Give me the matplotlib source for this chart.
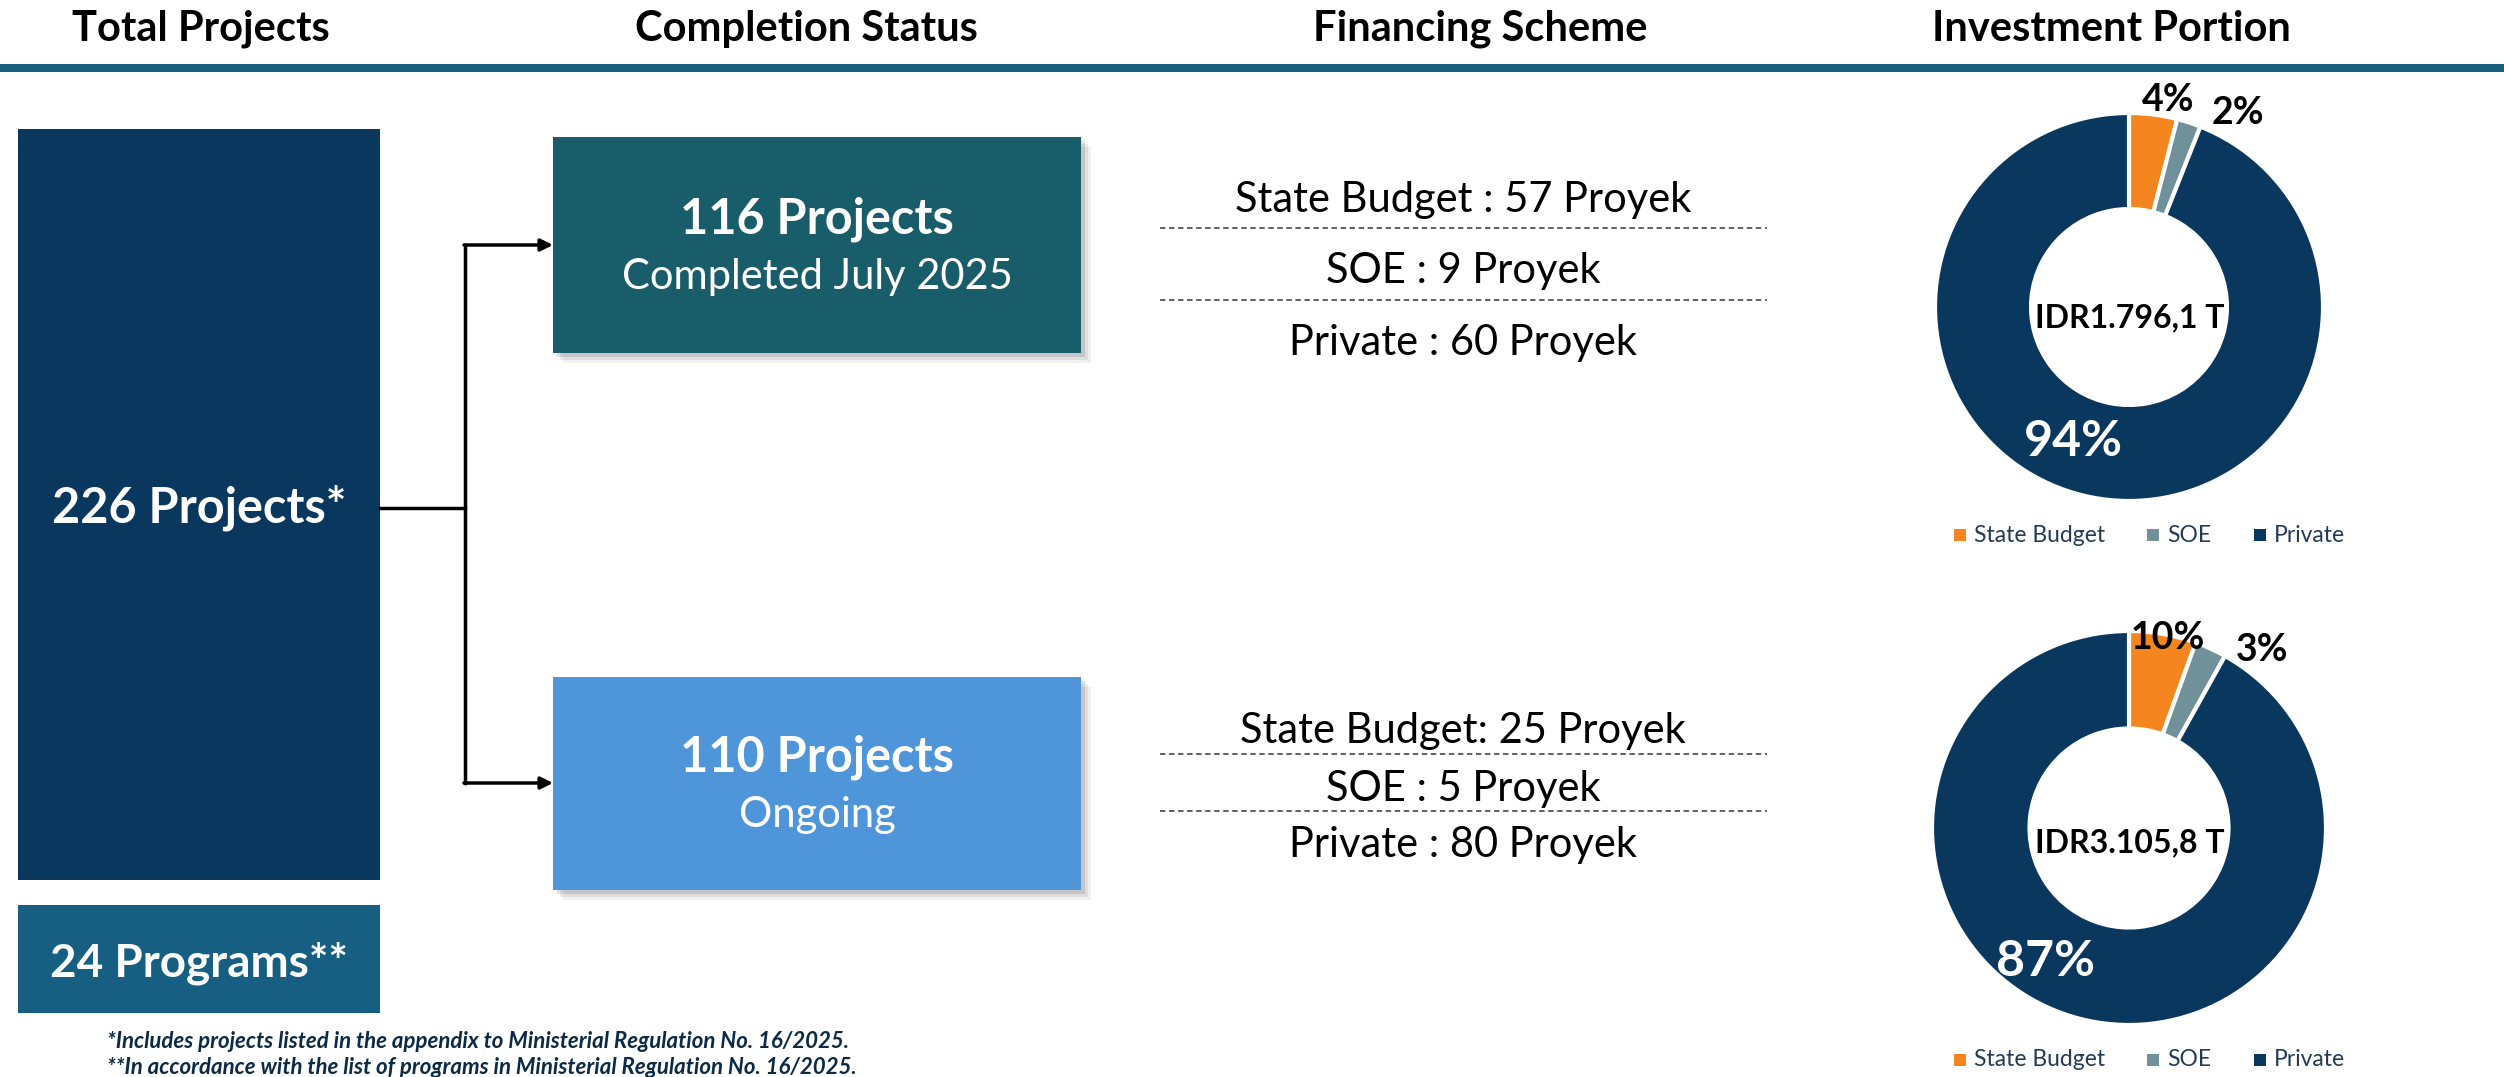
import matplotlib.pyplot as plt
from matplotlib.patches import Rectangle

plt.rcParams['font.family'] = ['Lato', 'DejaVu Sans']

W, H = 2504, 1077

headers = ['Total Projects', 'Completion Status', 'Financing Scheme', 'Investment Portion']
total_label = '226 Projects*'
programs_label = '24 Programs**'
status_counts = ['116 Projects', '110 Projects']
status_names = ['Completed July 2025', 'Ongoing']
financing_done = ['State Budget : 57 Proyek', 'SOE : 9 Proyek', 'Private : 60 Proyek']
financing_ongoing = ['State Budget: 25 Proyek', 'SOE : 5 Proyek', 'Private : 80 Proyek']
sources = ['State Budget', 'SOE', 'Private']
# wedge sizes as drawn, and the labels printed on them
share_done = [4, 2, 94]
share_ongoing = [5.5, 2.6, 91.9]
label_done = ['4%', '2%', '94%']
label_ongoing = ['10%', '3%', '87%']
totals = ['IDR1.796,1 T', 'IDR3.105,8 T']
notes = ['*Includes projects listed in the appendix to Ministerial Regulation No. 16/2025.',
         '**In accordance with the list of programs in Ministerial Regulation No. 16/2025.']

navy = '#0A375E'
teal = '#195D6B'
light = '#4F95D9'
prog = '#175F82'
line_c = '#17607F'
pie_colors = ['#F5861F', '#70909A', navy]

fig = plt.figure(figsize=(W / 100, H / 100), dpi=100)


def donut(cx, cy, r, vals):
    a = fig.add_axes([(cx - r) / W, 1 - (cy + r) / H, 2 * r / W, 2 * r / H])
    a.pie(vals, colors=pie_colors, startangle=90, counterclock=False, radius=1,
          wedgeprops=dict(width=0.495, edgecolor='white', linewidth=3))
    a.set_xlim(-1, 1)
    a.set_ylim(-1, 1)
    a.axis('off')


donut(2129, 307, 194, share_done)
donut(2129, 828, 197, share_ongoing)

ax = fig.add_axes([0, 0, 1, 1])
ax.set_zorder(5)
ax.patch.set_visible(False)
ax.set_xlim(0, W)
ax.set_ylim(H, 0)
ax.axis('off')

# headers
for x, t in zip([201, 806, 1480, 2111], headers):
    ax.text(x, 29, t, ha='center', va='center', fontsize=30, fontweight='bold', color='black')
ax.add_patch(Rectangle((0, 64), W, 8, color=line_c, lw=0))

# total boxes
ax.add_patch(Rectangle((18, 129), 362, 751, color=navy, lw=0))
ax.text(199, 508, total_label, ha='center', va='center', fontsize=35, fontweight='bold', color='white')
ax.add_patch(Rectangle((18, 905), 362, 108, color=prog, lw=0))
ax.text(199, 963, programs_label, ha='center', va='center', fontsize=33, fontweight='bold', color='white')

# connector
ax.plot([380, 465], [508, 508], color='black', lw=2.5)
ax.plot([465, 465], [245, 783], color='black', lw=2.5)
for y in [245, 783]:
    ax.annotate('', xy=(553, y), xytext=(464, y),
                arrowprops=dict(arrowstyle='-|>', color='black', lw=2.5, mutation_scale=18,
                                shrinkA=0, shrinkB=0))

# status boxes with soft shadow
for (y0, y1), col, cnt, name in zip([(137, 353), (677, 890)], [teal, light], status_counts, status_names):
    for k, al in zip([10, 7, 4], [0.08, 0.12, 0.18]):
        ax.add_patch(Rectangle((553 + k, y0 + k), 528, y1 - y0, color='#555555', alpha=al, lw=0))
    ax.add_patch(Rectangle((553, y0), 528, y1 - y0, color=col, lw=0))
    ym = (y0 + y1) / 2
    ax.text(817, ym - 26, cnt, ha='center', va='center', fontsize=35, fontweight='bold', color='white')
    ax.text(817, ym + 32, name, ha='center', va='center', fontsize=30, color='white')

# financing lists
for items, ys, dys in [(financing_done, [200, 271, 343], [228, 300]),
                       (financing_ongoing, [731, 789, 845], [754, 811])]:
    for t, y in zip(items, ys):
        ax.text(1463, y, t, ha='center', va='center', fontsize=30, color='black')
    for y in dys:
        ax.plot([1160, 1767], [y, y], color='#555555', lw=1.3, ls=(0, (3, 2)))

# donut labels
for lab, tot, pos, cy in [(label_done, totals[0], [(2168, 100), (2238, 113), (2073, 442)], 318),
                          (label_ongoing, totals[1], [(2168, 638), (2262, 650), (2045, 962)], 843)]:
    for i, (t, (x, y)) in enumerate(zip(lab, pos)):
        ax.text(x, y, t, ha='center', va='center', fontweight='bold',
                fontsize=36 if i == 2 else 27, color='white' if i == 2 else 'black')
    ax.text(2130, cy, tot, ha='center', va='center', fontsize=23, fontweight='bold', color='black')

# legends
for ly in [535, 1060]:
    for mx, s, c in zip([1960, 2153, 2260], sources, pie_colors):
        ax.add_patch(Rectangle((mx - 6, ly - 6), 12, 12, color=c, lw=0))
        ax.text(mx + 14, ly, s, ha='left', va='center', fontsize=16.5, color='#243A55')

# footnotes
for y, t in zip([1041, 1067], notes):
    ax.text(107, y, t, ha='left', va='center', fontsize=16, fontweight='bold',
            fontstyle='italic', color='#0B2A45')

fig.savefig('out.png', dpi=100)
